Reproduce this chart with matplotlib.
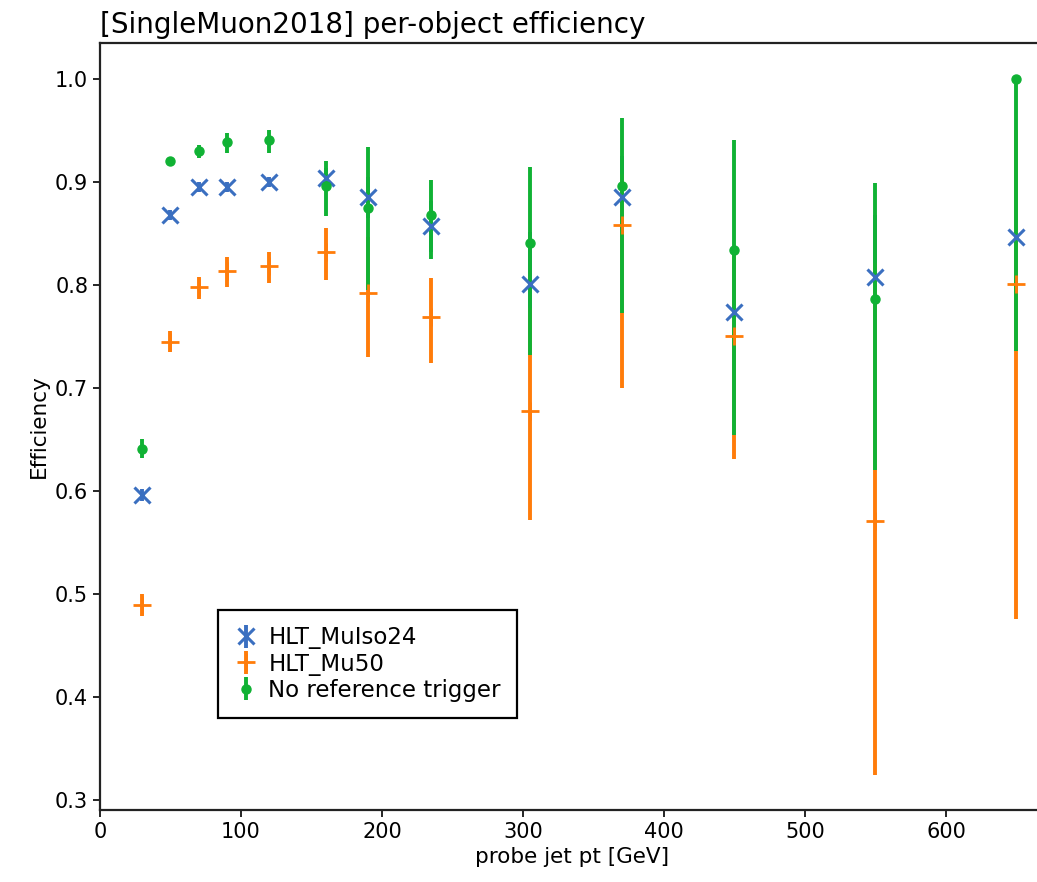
import numpy as np
import matplotlib
matplotlib.use("Agg")
import matplotlib.pyplot as plt

# bin centres of probe jet pt [GeV]
pt = [30, 50, 70, 90, 120, 160, 190, 235, 305, 370, 450, 550, 650]

# HLT_MuIso24
iso_eff = [0.596, 0.868, 0.895, 0.895, 0.900, 0.904, 0.885, 0.857, 0.801, 0.885, 0.774, 0.808, 0.847]
iso_lo = [0.006, 0.005, 0.005, 0.005, 0.005, 0.010, 0.020, 0.025, 0.050, 0.050, 0.060, 0.080, 0.080]
iso_hi = [0.006, 0.005, 0.005, 0.005, 0.005, 0.010, 0.020, 0.025, 0.050, 0.040, 0.060, 0.060, 0.060]

# HLT_Mu50
mu50_eff = [0.489, 0.745, 0.798, 0.814, 0.818, 0.832, 0.792, 0.769, 0.678, 0.858, 0.750, 0.571, 0.801]
mu50_lo = [0.011, 0.010, 0.012, 0.016, 0.016, 0.027, 0.062, 0.045, 0.106, 0.158, 0.119, 0.247, 0.325]
mu50_hi = [0.011, 0.010, 0.010, 0.013, 0.014, 0.023, 0.055, 0.038, 0.100, 0.050, 0.080, 0.250, 0.150]

# No reference trigger
ref_eff = [0.641, 0.920, 0.930, 0.939, 0.941, 0.896, 0.875, 0.868, 0.841, 0.896, 0.834, 0.786, 1.000]
ref_lo = [0.009, 0.004, 0.007, 0.011, 0.013, 0.029, 0.080, 0.043, 0.109, 0.123, 0.180, 0.166, 0.264]
ref_hi = [0.009, 0.004, 0.006, 0.009, 0.010, 0.024, 0.059, 0.034, 0.074, 0.066, 0.107, 0.113, 0.000]

blue = '#3a6fc0'
orange = '#ff7c0a'
green = '#10b234'

fig = plt.figure(figsize=(10.37, 8.82), dpi=100)
ax = fig.add_axes([0.0964, 0.0816, 0.911, 0.8696])

ax.errorbar(pt, iso_eff, yerr=[iso_lo, iso_hi], fmt='x', color=blue,
            markersize=12, mew=2.2, elinewidth=2.8, label='HLT_MuIso24')
ax.errorbar(pt, mu50_eff, yerr=[mu50_lo, mu50_hi], fmt='+', color=orange,
            markersize=13, mew=2.0, elinewidth=2.8, label='HLT_Mu50')
ax.errorbar(pt, ref_eff, yerr=[ref_lo, ref_hi], fmt='o', color=green,
            markersize=6.5, elinewidth=2.8, label='No reference trigger')

ax.set_xlim(0, 670)
ax.set_ylim(0.29, 1.035)
ax.set_xticks(np.arange(0, 700, 100))
ax.set_yticks(np.arange(0.3, 1.01, 0.1))
ax.tick_params(labelsize=15, length=5, width=1.2)
for s in ax.spines.values():
    s.set_linewidth(1.6)
    s.set_color('#222222')

ax.set_xlabel('probe jet pt [GeV]', fontsize=15.5)
ax.set_ylabel('Efficiency', fontsize=15.5)
ax.set_title('[SingleMuon2018] per-object efficiency', loc='left', fontsize=20, pad=7)

leg = ax.legend(loc='lower left', bbox_to_anchor=(0.125, 0.12), borderaxespad=0,
                fontsize=16.5, fancybox=False, framealpha=1, edgecolor='black',
                handlelength=1.0, handletextpad=0.5, borderpad=0.7, labelspacing=0.15)
leg.get_frame().set_linewidth(1.6)

plt.savefig('out.png', dpi=100)
plt.close()
